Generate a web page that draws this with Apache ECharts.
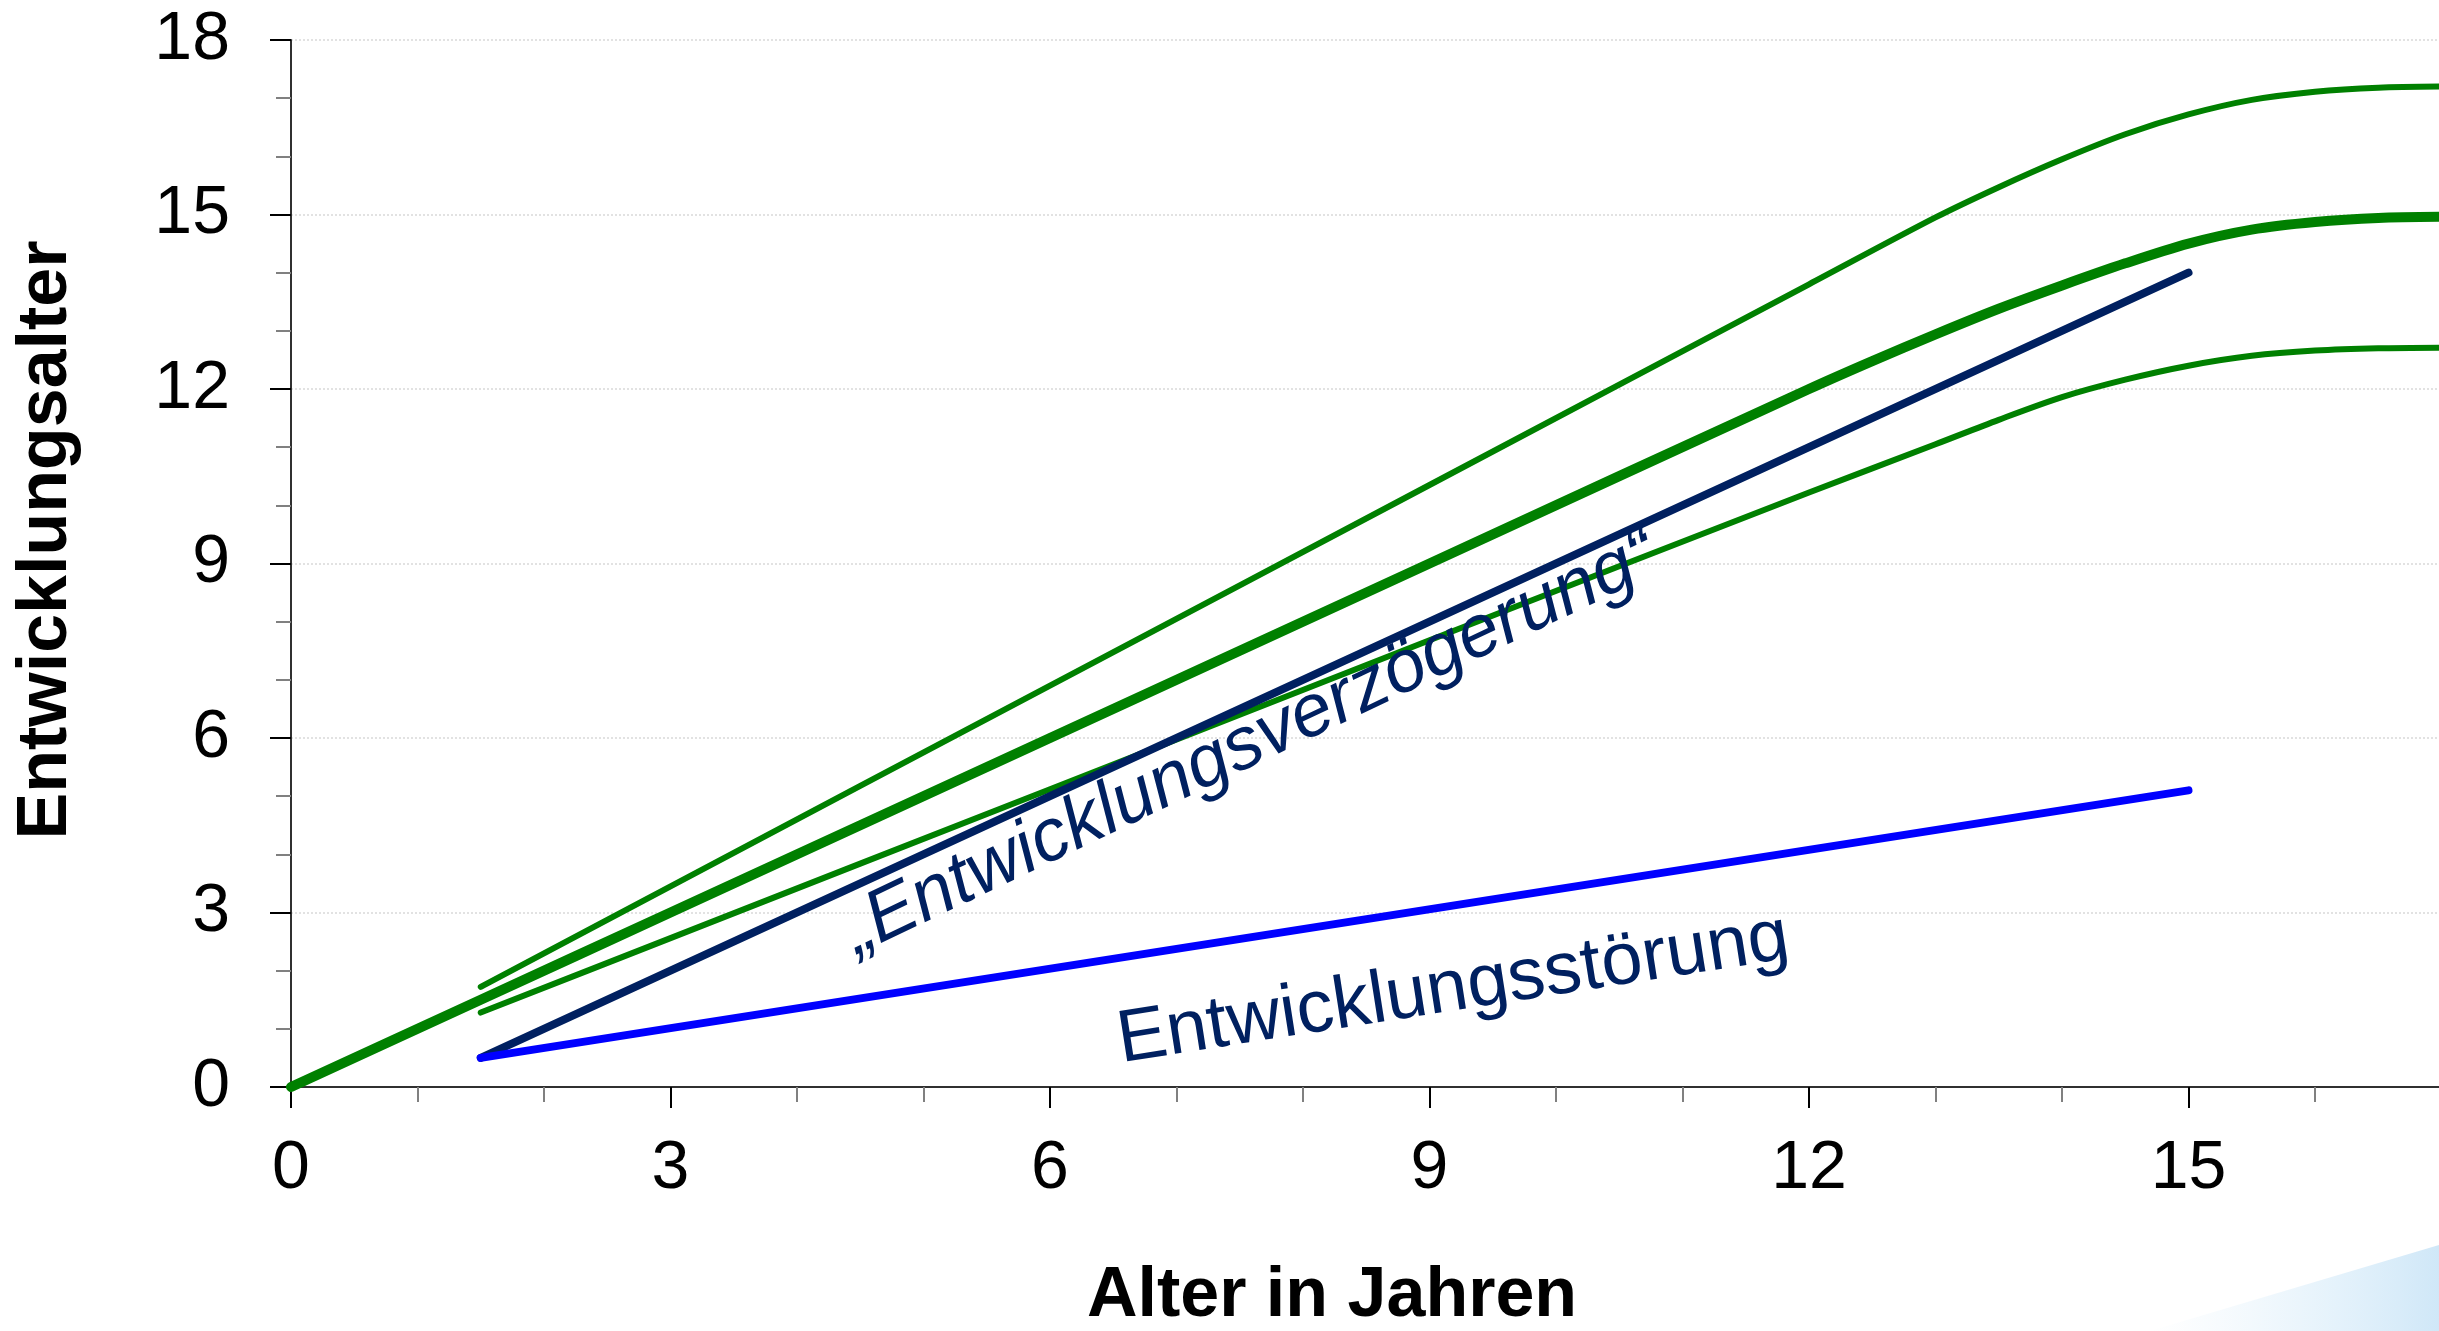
<!DOCTYPE html>
<html>
<head>
<meta charset="utf-8">
<style>
html,body{margin:0;padding:0;background:#fff;}
#chart{width:2439px;height:1331px;}
</style>
<script src="https://cdn.jsdelivr.net/npm/echarts@6/dist/echarts.min.js"></script>
</head>
<body>
<div id="chart"></div>
<script>
// ---- data ----
const medianAge   = [0, 1.5, 3, 6, 9, 12, 12.5, 13, 13.5, 14, 14.5, 15, 15.5, 16, 16.5, 17];
const medianDev   = [0, 1.5, 3, 6, 9, 12, 12.48, 12.94, 13.38, 13.78, 14.16, 14.5, 14.74, 14.87, 14.94, 14.96];
const upperAge    = [1.5, 3, 6, 9, 12, 13, 13.5, 14, 14.5, 15, 15.5, 16, 16.5, 17];
const upperDev    = [1.72, 3.45, 6.9, 10.35, 13.8, 14.95, 15.47, 15.95, 16.38, 16.72, 16.97, 17.11, 17.18, 17.2];
const lowerAge    = [1.5, 3, 6, 9, 12, 13, 13.5, 14, 14.5, 15, 15.5, 16, 16.5, 17];
const lowerDev    = [1.28, 2.56, 5.12, 7.68, 10.22, 11.05, 11.47, 11.86, 12.16, 12.4, 12.57, 12.66, 12.7, 12.71];
const delayAge    = [1.5, 15];
const delayDev    = [0.5, 14];
const disorderAge = [1.5, 15];
const disorderDev = [0.5, 5.1];
const xTickLabels = ['0', '3', '6', '9', '12', '15'];
const yTickLabels = ['0', '3', '6', '9', '12', '15', '18'];
const xTitle = 'Alter in Jahren';
const yTitle = 'Entwicklungsalter';
const delayLabel = '\u201EEntwicklungsverzögerung\u201C';
const disorderLabel = 'Entwicklungsstörung';

const zip = (xs, ys) => xs.map((x, i) => [x, ys[i]]);
const FONT = '"Liberation Sans", Arial, Helvetica, sans-serif';
const GREEN = '#008000', NAVY = '#002060', BLUE = '#0000FF';

const chart = echarts.init(document.getElementById('chart'), null, {renderer: 'canvas'});

function axisCommon(labels) {
  return {
    type: 'value', min: 0, max: 18, interval: 3,
    axisLine: {show: true, lineStyle: {color: '#303030', width: 2}},
    axisTick: {show: true, length: 21, lineStyle: {color: '#000', width: 2}},
    minorTick: {show: true, splitNumber: 3, length: 15, lineStyle: {color: '#808080', width: 2}},
    axisLabel: {
      fontSize: 68, color: '#000', fontFamily: FONT,
      formatter: v => labels.includes(String(v)) ? String(v) : ''
    }
  };
}

const xAxis = axisCommon(xTickLabels);
xAxis.splitLine = {show: false};
xAxis.axisLabel.margin = 48;
xAxis.axisLabel.showMaxLabel = false;

const yAxis = axisCommon(yTickLabels);
yAxis.splitLine = {show: true, lineStyle: {color: '#e2e2e2', width: 2, type: 'dotted'}};
yAxis.axisLabel.margin = 61;

function lineSeries(name, data, color, width, smooth, z) {
  return {
    name, type: 'line', data, showSymbol: false, symbol: 'none',
    smooth: smooth, z: z, clip: true,
    lineStyle: {color, width, cap: 'round', join: 'round'},
    emphasis: {disabled: true}, animation: false
  };
}

chart.setOption({
  backgroundColor: '#ffffff',
  animation: false,
  grid: {left: 291, top: 40, height: 1047, width: 2277, containLabel: false, outerBoundsMode: 'none'},
  xAxis, yAxis,
  series: [
    lineSeries('upper', zip(upperAge, upperDev), GREEN, 6, 0.3, 2),
    lineSeries('lower', zip(lowerAge, lowerDev), GREEN, 6, 0.3, 2),
    lineSeries('median', zip(medianAge, medianDev), GREEN, 10, 0.3, 3),
    lineSeries('delay', zip(delayAge, delayDev), NAVY, 8, false, 4),
    lineSeries('disorder', zip(disorderAge, disorderDev), BLUE, 8, false, 5)
  ],
  graphic: [
    {
      type: 'polygon', z: -10, silent: true,
      shape: {points: [[2150, 1331], [2439, 1245], [2439, 1331]]},
      style: {fill: new echarts.graphic.LinearGradient(0, 0, 1, 0, [
        {offset: 0, color: 'rgba(230,243,251,0)'},
        {offset: 0.6, color: 'rgba(220,238,250,0.7)'},
        {offset: 1, color: 'rgba(205,230,247,0.95)'}
      ])}
    },
    {
      type: 'text', x: 47, y: 540, rotation: Math.PI / 2, z: 100,
      style: {text: yTitle, font: 'bold 70px ' + FONT, fill: '#000', textAlign: 'center', textVerticalAlign: 'middle'}
    },
    {
      type: 'text', x: 1332, y: 1297, z: 100,
      style: {text: xTitle, font: 'bold 70px ' + FONT, fill: '#000', textAlign: 'center', textVerticalAlign: 'middle'}
    },
    {
      type: 'text', x: 848, y: 936, rotation: 25.5 * Math.PI / 180, z: 100,
      style: {text: delayLabel, font: 'italic 74px ' + FONT, fill: NAVY, textAlign: 'left', textVerticalAlign: 'middle'}
    },
    {
      type: 'text', x: 1118, y: 1042, rotation: 8.85 * Math.PI / 180, z: 100,
      style: {text: disorderLabel, font: '74px ' + FONT, fill: NAVY, textAlign: 'left', textVerticalAlign: 'middle'}
    }
  ]
});
</script>
</body>
</html>
